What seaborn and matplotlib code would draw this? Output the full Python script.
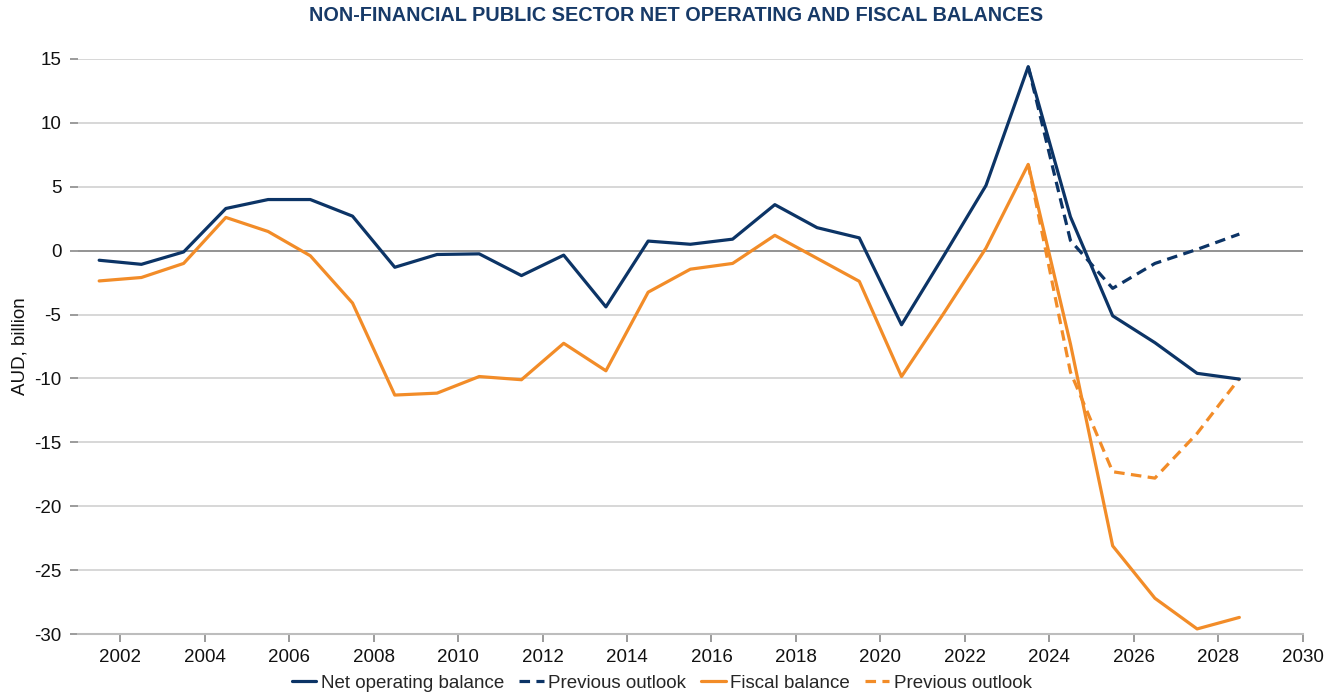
import numpy as np
import pandas as pd
import matplotlib
matplotlib.use("Agg")
import matplotlib.pyplot as plt
from matplotlib import font_manager
from matplotlib.lines import Line2D
import seaborn as sns

# Fiscal year mid-points
years = [2001.5, 2002.5, 2003.5, 2004.5, 2005.5, 2006.5, 2007.5, 2008.5,
         2009.5, 2010.5, 2011.5, 2012.5, 2013.5, 2014.5, 2015.5, 2016.5,
         2017.5, 2018.5, 2019.5, 2020.5, 2021.5, 2022.5, 2023.5, 2024.5,
         2025.5, 2026.5, 2027.5, 2028.5]

# AUD billion
net_operating = [-0.75, -1.07, -0.1, 3.3, 4.0, 4.0, 2.7, -1.3,
                 -0.3, -0.25, -1.95, -0.35, -4.4, 0.75, 0.5, 0.9,
                 3.6, 1.8, 1.0, -5.8, -0.4, 5.1, 14.4, 2.65,
                 -5.1, -7.2, -9.6, -10.05]
fiscal = [-2.37, -2.1, -1.0, 2.6, 1.5, -0.4, -4.1, -11.3,
          -11.15, -9.85, -10.1, -7.25, -9.4, -3.25, -1.45, -1.0,
          1.2, -0.6, -2.4, -9.85, -4.9, 0.2, 6.75, -7.3,
          -23.1, -27.2, -29.6, -28.7]

outlook_years = [2023.5, 2024.5, 2025.5, 2026.5, 2027.5, 2028.5]
prev_net_operating = [14.4, 0.8, -2.95, -1.0, 0.1, 1.3]
prev_fiscal = [6.75, -9.5, -17.3, -17.8, -14.3, -10.0]

legend_labels = ["Net operating balance", "Previous outlook",
                 "Fiscal balance", "Previous outlook"]
title = "NON-FINANCIAL PUBLIC SECTOR NET OPERATING AND FISCAL BALANCES"

NAVY = "#0c3466"
ORANGE = "#f28c28"

sns.set_theme(style="white")
plt.rcParams["font.family"] = ["Liberation Sans", "DejaVu Sans"]
plt.rcParams["axes.unicode_minus"] = False

installed = {f.name for f in font_manager.fontManager.ttflist}
title_family = "Liberation Sans Narrow" if "Liberation Sans Narrow" in installed else "Liberation Sans"

fig = plt.figure(figsize=(13.32, 6.93), dpi=100)
ax = fig.add_axes([0.0586, 0.0851, 0.9194, 0.8298])

df_main = pd.DataFrame({"year": years, "nob": net_operating, "fb": fiscal})
df_prev = pd.DataFrame({"year": outlook_years, "nob": prev_net_operating,
                        "fb": prev_fiscal})

lw = 2.3
dash = (3.3, 2.0)

# gridlines and zero line
for v in range(-30, 16, 5):
    if v == 0:
        continue
    ax.axhline(v, color="#d4d4d4", lw=1.3, zorder=0)
ax.axhline(0, color="#8a8a8a", lw=1.3, zorder=1)

sns.lineplot(data=df_prev, x="year", y="nob", ax=ax, color=NAVY, lw=lw,
             zorder=3).lines[-1].set_dashes(dash)
sns.lineplot(data=df_prev, x="year", y="fb", ax=ax, color=ORANGE, lw=lw,
             zorder=3).lines[-1].set_dashes(dash)
sns.lineplot(data=df_main, x="year", y="nob", ax=ax, color=NAVY, lw=lw, zorder=4)
sns.lineplot(data=df_main, x="year", y="fb", ax=ax, color=ORANGE, lw=lw, zorder=4)

ax.set_xlim(2001, 2030)
ax.set_ylim(-30, 15)
ax.set_xticks(range(2002, 2031, 2))
ax.set_yticks(range(-30, 16, 5))
ax.set_xlabel("")
ax.set_ylabel("AUD, billion", fontsize=13.5, labelpad=4, color="#111111")

for s in ["top", "right", "left"]:
    ax.spines[s].set_visible(False)
ax.spines["bottom"].set_color("#bdbdbd")
ax.spines["bottom"].set_linewidth(1.5)
ax.spines["bottom"].set_zorder(2)

ax.tick_params(axis="both", which="major", labelsize=13.5, colors="#111111",
               length=6, width=1.2, direction="out")
ax.tick_params(axis="x", color="#8a8a8a", pad=5, bottom=True)
ax.tick_params(axis="y", color="#8a8a8a", pad=6, left=True)
ax.grid(False)

handles = [Line2D([], [], color=NAVY, lw=lw),
           Line2D([], [], color=NAVY, lw=lw, dashes=dash),
           Line2D([], [], color=ORANGE, lw=lw),
           Line2D([], [], color=ORANGE, lw=lw, dashes=dash)]
fig.legend(handles, legend_labels, loc="center", bbox_to_anchor=(0.497, 0.014),
           ncol=4, frameon=False, fontsize=13.5, handlelength=1.3,
           handletextpad=0.25, columnspacing=0.8, borderpad=0)

fig.text(0.5075, 0.977, title, ha="center", va="center", fontsize=14.3,
         fontweight="bold", color="#173a68", family=title_family)

fig.savefig("out.png", dpi=100)
